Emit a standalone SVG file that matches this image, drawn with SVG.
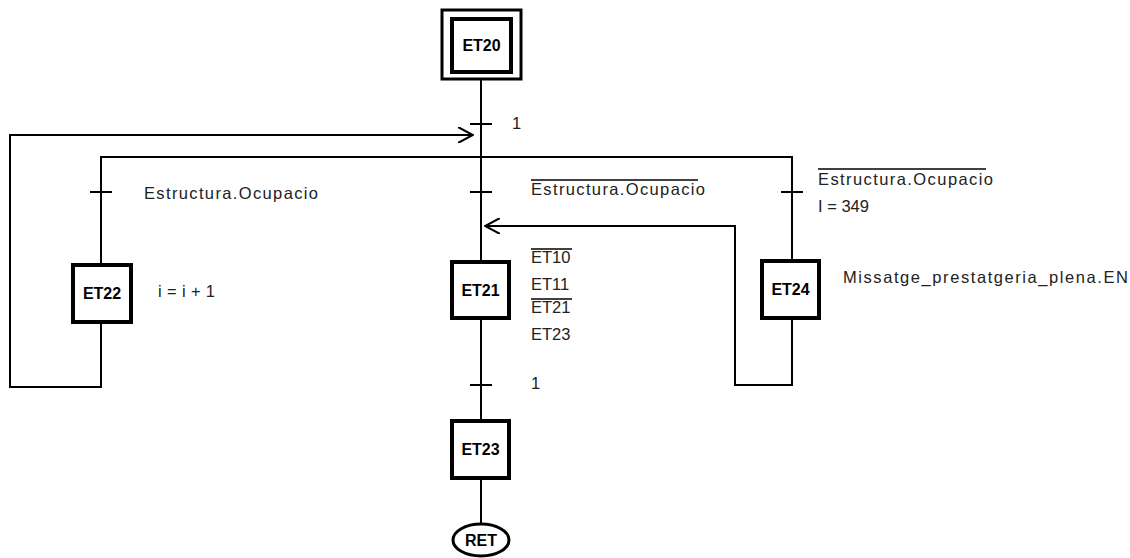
<svg xmlns="http://www.w3.org/2000/svg" width="1130" height="558" viewBox="0 0 1130 558">
<style>
.box{fill:#fff;stroke:#000;stroke-width:4}
.lbl{font-family:"Liberation Sans",Arial,sans-serif;font-weight:bold;font-size:16px;text-anchor:middle;fill:#000}
.txt{font-family:"Liberation Sans",Arial,sans-serif;font-size:16.5px;fill:#222}
.ln{fill:none;stroke:#000;stroke-width:2}
.ov{stroke:#000;stroke-width:1.5}
</style>
<defs>
<marker id="arr" viewBox="0 0 16 16" markerUnits="userSpaceOnUse" markerWidth="16" markerHeight="16" refX="15" refY="8" orient="auto">
<path d="M0,0 L15,8 L0,16" fill="none" stroke="#000" stroke-width="2"/>
</marker>
</defs>
<g id="connectors">
<path class="ln" d="M481,79 V262"/>
<path class="ln" d="M101,322 V387 H10 V135 H473" marker-end="url(#arr)"/>
<path class="ln" d="M101,265 V157 H792 V261"/>
<path class="ln" d="M792,318 V385 H735 V226 H485" marker-end="url(#arr)"/>
<path class="ln" d="M481,318 V421"/>
<path class="ln" d="M481,478 V524"/>
<path class="ln" d="M470,124 H492 M470,192 H492 M90,192 H112 M781,192 H803 M470,385 H492"/>
</g>
<g id="t1"><text class="txt" x="512" y="129">1</text></g>
<g id="t2"><text class="txt" x="144" y="199" textLength="174" lengthAdjust="spacing">Estructura.Ocupacio</text></g>
<g id="t3"><line class="ov" x1="531" y1="180" x2="698" y2="180"/><text class="txt" x="531" y="195" textLength="174" lengthAdjust="spacing">Estructura.Ocupacio</text></g>
<g id="t4"><line class="ov" x1="818" y1="169" x2="986" y2="169"/><text class="txt" x="818" y="185" textLength="175" lengthAdjust="spacing">Estructura.Ocupacio</text><text class="txt" x="818" y="212">I = 349</text></g>
<g id="t5"><text class="txt" x="531" y="389">1</text></g>
<g id="ET20"><rect x="442" y="10" width="79" height="69" fill="#fff" stroke="#000" stroke-width="3"/><rect class="box" x="452" y="19" width="59" height="53"/><text class="lbl" x="481.5" y="51">ET20</text></g>
<g id="ET22"><rect class="box" x="73" y="265" width="58" height="57"/><text class="lbl" x="102" y="299">ET22</text><text class="txt" x="158" y="297" textLength="57" lengthAdjust="spacing">i = i + 1</text></g>
<g id="ET21"><rect class="box" x="452" y="262" width="57" height="56"/><text class="lbl" x="480.5" y="296">ET21</text>
<line class="ov" x1="531" y1="249" x2="572" y2="249"/><text class="txt" x="531" y="263">ET10</text>
<text class="txt" x="531" y="290">ET11</text>
<line class="ov" x1="531" y1="299" x2="572" y2="299"/><text class="txt" x="531" y="313">ET21</text>
<text class="txt" x="531" y="340">ET23</text></g>
<g id="ET24"><rect class="box" x="762" y="261" width="57" height="57"/><text class="lbl" x="790.5" y="295">ET24</text><text class="txt" x="843" y="283" textLength="285" lengthAdjust="spacing">Missatge_prestatgeria_plena.EN</text></g>
<g id="ET23"><rect class="box" x="452" y="421" width="57" height="57"/><text class="lbl" x="480.5" y="455">ET23</text></g>
<g id="RET"><ellipse cx="481" cy="540" rx="28" ry="16" fill="#fff" stroke="#000" stroke-width="3"/><text class="lbl" x="481" y="546">RET</text></g>
</svg>
